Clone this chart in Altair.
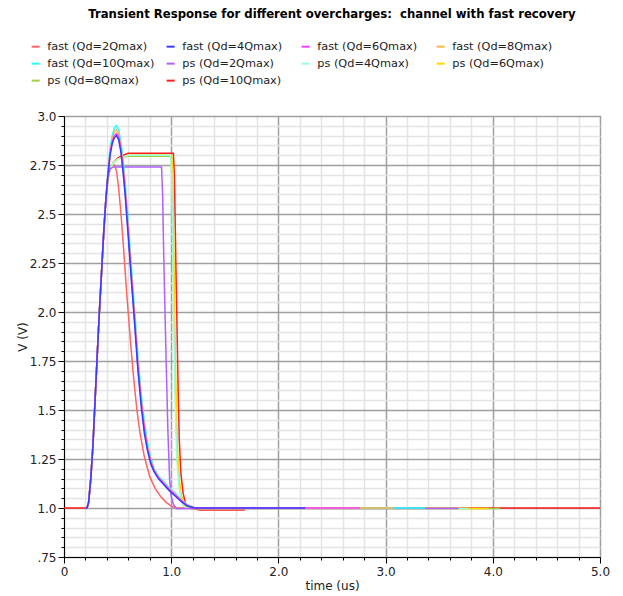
import altair as alt
import pandas as pd

TITLE = "Transient Response for different overcharges:\u00a0 channel with fast recovery"

SERIES = ["fast (Qd=2Qmax)", "fast (Qd=4Qmax)", "fast (Qd=6Qmax)", "fast (Qd=8Qmax)",
          "fast (Qd=10Qmax)", "ps (Qd=2Qmax)", "ps (Qd=4Qmax)", "ps (Qd=6Qmax)",
          "ps (Qd=8Qmax)", "ps (Qd=10Qmax)"]
COLORS = ["#ff6464", "#3a3aff", "#ff3cff", "#ffb44a", "#20ffff",
          "#b060ff", "#99ffd8", "#ffd800", "#a0d040", "#ff1e1e"]

# shared rising edge
RISE_T = [0.20, 0.215, 0.23, 0.25, 0.27, 0.29, 0.31, 0.33, 0.35, 0.37, 0.39]
RISE_V = [1.0, 1.0, 1.03, 1.15, 1.32, 1.55, 1.78, 2.0, 2.2, 2.4, 2.57]

FAST_T = [0.41, 0.43, 0.45, 0.47, 0.49, 0.51, 0.53, 0.55, 0.57, 0.60, 0.63, 0.66, 0.69,
          0.72, 0.75, 0.78, 0.81, 0.84, 0.88, 0.93, 0.98, 1.04, 1.10, 1.15, 1.22]
FAST4_V = [2.70, 2.80, 2.86, 2.89, 2.90, 2.88, 2.82, 2.72, 2.60, 2.38, 2.15, 1.93, 1.70,
           1.52, 1.38, 1.29, 1.225, 1.185, 1.15, 1.12, 1.09, 1.06, 1.03, 1.01, 1.0]
FAST6_V = [2.70, 2.81, 2.87, 2.90, 2.91, 2.895, 2.83, 2.74, 2.62, 2.40, 2.17, 1.95, 1.72,
           1.54, 1.40, 1.30, 1.235, 1.19, 1.155, 1.125, 1.095, 1.065, 1.035, 1.012, 1.0]
FAST8_V = [2.71, 2.82, 2.88, 2.92, 2.93, 2.91, 2.85, 2.76, 2.64, 2.42, 2.19, 1.97, 1.74,
           1.56, 1.42, 1.31, 1.245, 1.195, 1.16, 1.13, 1.10, 1.07, 1.038, 1.015, 1.0]
FAST10_V = [2.72, 2.84, 2.90, 2.94, 2.95, 2.93, 2.87, 2.78, 2.66, 2.45, 2.22, 2.00, 1.77,
            1.58, 1.44, 1.33, 1.255, 1.20, 1.165, 1.135, 1.105, 1.075, 1.04, 1.018, 1.0]
FAST_END = {"fast (Qd=4Qmax)": 2.25, "fast (Qd=6Qmax)": 2.76,
            "fast (Qd=8Qmax)": 3.07, "fast (Qd=10Qmax)": 3.37}

FAST2_T = [0.41, 0.43, 0.45, 0.47, 0.49, 0.51, 0.53, 0.55, 0.57, 0.59, 0.62, 0.65, 0.68,
           0.71, 0.75, 0.80, 0.85, 0.90, 0.95, 1.00, 1.05, 1.90]
FAST2_V = [2.69, 2.73, 2.75, 2.75, 2.72, 2.63, 2.51, 2.37, 2.21, 2.06, 1.85, 1.66, 1.50,
           1.38, 1.26, 1.16, 1.10, 1.06, 1.03, 1.01, 1.0, 1.0]

PS2_T = [0.41, 0.43, 0.46, 0.91, 0.92, 0.93, 0.94, 0.955, 0.97, 0.985, 1.0, 1.02, 1.05,
         1.2, 3.68]
PS2_V = [2.69, 2.73, 2.74, 2.74, 2.6, 2.3, 2.05, 1.7, 1.38, 1.15, 1.06, 1.02, 0.996,
         0.997, 0.997]

PS4_T = [0.41, 0.43, 0.46, 0.50, 0.55, 0.60, 0.995, 1.005, 1.015, 1.025, 1.035, 1.045,
         1.055, 1.075, 1.095, 1.115, 1.145, 1.2, 3.77]
PS4_V = [2.68, 2.73, 2.76, 2.78, 2.79, 2.80, 2.80, 2.7, 2.3, 1.9, 1.6, 1.38, 1.23, 1.1,
         1.04, 1.01, 1.0, 0.998, 0.998]
PS6_T = [0.41, 0.43, 0.46, 0.50, 0.55, 0.60, 1.005, 1.015, 1.025, 1.035, 1.045, 1.055,
         1.065, 1.085, 1.105, 1.125, 1.155, 1.2, 3.96]
PS6_V = [2.68, 2.73, 2.76, 2.78, 2.79, 2.80, 2.80, 2.7, 2.3, 1.9, 1.6, 1.38, 1.23, 1.1,
         1.04, 1.01, 1.0, 0.998, 0.998]
PS8_T = [0.41, 0.43, 0.46, 0.50, 0.55, 0.60, 1.0, 1.01, 1.02, 1.03, 1.04, 1.05, 1.06,
         1.08, 1.10, 1.12, 1.15, 1.2, 4.07]
PS8_V = [2.68, 2.73, 2.76, 2.78, 2.79, 2.795, 2.795, 2.7, 2.3, 1.9, 1.6, 1.38, 1.23, 1.1,
         1.04, 1.01, 1.0, 0.998, 0.998]
PS10_T = [0.0, 0.41, 0.43, 0.46, 0.50, 0.55, 0.60, 1.02, 1.03, 1.045, 1.055, 1.065, 1.075,
          1.09, 1.11, 1.13, 1.16, 1.27, 1.68, 1.69, 5.0]
PS10_V = [1.0, 2.68, 2.73, 2.76, 2.785, 2.80, 2.81, 2.81, 2.7, 2.2, 1.9, 1.6, 1.35, 1.18,
          1.08, 1.03, 1.0, 0.99, 0.99, 1.0, 1.0]

Y_TICKS = [0.75, 0.8, 0.85, 0.9, 0.95, 1.0, 1.05, 1.1, 1.15, 1.2, 1.25, 1.3, 1.35, 1.4,
           1.45, 1.5, 1.55, 1.6, 1.65, 1.7, 1.75, 1.8, 1.85, 1.9, 1.95, 2.0, 2.05, 2.1,
           2.15, 2.2, 2.25, 2.3, 2.35, 2.4, 2.45, 2.5, 2.55, 2.6, 2.65, 2.7, 2.75, 2.8,
           2.85, 2.9, 2.95, 3.0]
Y_MAJOR = [0.75, 1.0, 1.25, 1.5, 1.75, 2.0, 2.25, 2.5, 2.75, 3.0]
Y_LABELS = [".75", "1.0", "1.25", "1.5", "1.75", "2.0", "2.25", "2.5", "2.75", "3.0"]
X_TICKS = [0, 0.2, 0.4, 0.6, 0.8, 1.0, 1.2, 1.4, 1.6, 1.8, 2.0, 2.2, 2.4, 2.6, 2.8, 3.0,
           3.2, 3.4, 3.6, 3.8, 4.0, 4.2, 4.4, 4.6, 4.8, 5.0]
X_MAJOR = [0, 1.0, 2.0, 3.0, 4.0, 5.0]
X_LABELS = ["0", "1.0", "2.0", "3.0", "4.0", "5.0"]

series_pts = {}
for name, vals in [("fast (Qd=4Qmax)", FAST4_V), ("fast (Qd=6Qmax)", FAST6_V),
                   ("fast (Qd=8Qmax)", FAST8_V), ("fast (Qd=10Qmax)", FAST10_V)]:
    series_pts[name] = (RISE_T + FAST_T + [FAST_END[name]], RISE_V + vals + [1.0])
series_pts["fast (Qd=2Qmax)"] = (RISE_T + FAST2_T, RISE_V + FAST2_V)
series_pts["ps (Qd=2Qmax)"] = (RISE_T + PS2_T, RISE_V + PS2_V)
series_pts["ps (Qd=4Qmax)"] = (RISE_T + PS4_T, RISE_V + PS4_V)
series_pts["ps (Qd=6Qmax)"] = (RISE_T + PS6_T, RISE_V + PS6_V)
series_pts["ps (Qd=8Qmax)"] = (RISE_T + PS8_T, RISE_V + PS8_V)
series_pts["ps (Qd=10Qmax)"] = ([PS10_T[0]] + RISE_T + PS10_T[1:],
                                [PS10_V[0]] + RISE_V + PS10_V[1:])

# drawing order, bottom to top
Z_ORDER = ["ps (Qd=10Qmax)", "fast (Qd=2Qmax)", "ps (Qd=8Qmax)", "ps (Qd=6Qmax)",
           "ps (Qd=4Qmax)", "ps (Qd=2Qmax)", "fast (Qd=10Qmax)", "fast (Qd=8Qmax)",
           "fast (Qd=6Qmax)", "fast (Qd=4Qmax)"]

rows = []
for name in Z_ORDER:
    ts, vs = series_pts[name]
    for i, (t, v) in enumerate(zip(ts, vs)):
        rows.append({"t": t, "v": v, "series": name, "i": i})
df = pd.DataFrame(rows)


def label_expr(vals, labs):
    e = "''"
    for v, l in zip(vals, labs):
        e = f"abs(datum.value-{v})<0.001 ? '{l}' : ({e})"
    return e


def major_test(vals):
    return " || ".join(f"abs(datum.value-{v})<0.001" for v in vals)


FONT = "DejaVu Sans"
MAJOR_GRID = "#a0a0a0"
MINOR_GRID = "#e4e4e4"

x_axis = alt.Axis(values=X_TICKS, labelExpr=label_expr(X_MAJOR, X_LABELS), title="time (us)",
                  gridColor={"condition": {"test": major_test(X_MAJOR), "value": MAJOR_GRID},
                             "value": MINOR_GRID},
                  gridWidth=1.5,
                  tickSize={"condition": {"test": major_test(X_MAJOR), "value": 6}, "value": 3},
                  tickColor="#000", domainColor="#000", labelFont=FONT, labelFontSize=12,
                  labelColor="#222", titleFont=FONT, titleFontSize=12, titleFontWeight="normal",
                  titleColor="#222", labelPadding=3, titlePadding=3, labelOverlap=False,
                  labelFlush=False)
y_axis = alt.Axis(values=Y_TICKS, labelExpr=label_expr(Y_MAJOR, Y_LABELS), title="V (V)",
                  gridColor={"condition": {"test": major_test(Y_MAJOR), "value": MAJOR_GRID},
                             "value": MINOR_GRID},
                  gridWidth=1.5,
                  tickSize={"condition": {"test": major_test(Y_MAJOR), "value": 6}, "value": 3},
                  tickColor="#000", domainColor="#000", labelFont=FONT, labelFontSize=12,
                  labelColor="#222", titleFont=FONT, titleFontSize=12, titleFontWeight="normal",
                  titleColor="#222", labelPadding=2, titlePadding=0, labelOverlap=False,
                  labelFlush=False)

legend = alt.Legend(title=None, orient="none", legendX=-34, legendY=-75, columns=4,
                    direction="horizontal",
                    symbolType="stroke", symbolSize=64, symbolStrokeWidth=2,
                    labelFont=FONT, labelFontSize=11.3, labelColor="#222", labelOffset=6,
                    gridAlign="all", columnPadding=7, rowPadding=5, padding=0)

chart = alt.Chart(df).mark_line(strokeWidth=1.5, interpolate="linear").encode(
    x=alt.X("t:Q", scale=alt.Scale(domain=[0, 5], nice=False), axis=x_axis),
    y=alt.Y("v:Q", scale=alt.Scale(domain=[0.75, 3.0], nice=False), axis=y_axis),
    color=alt.Color("series:N", scale=alt.Scale(domain=SERIES, range=COLORS),
                    sort=SERIES, legend=legend),
    order=alt.Order("i:Q"),
).properties(
    width=536, height=441,
    title=alt.TitleParams(TITLE, font=FONT, fontSize=11.7, fontWeight="bold", color="#000",
                          anchor="middle", frame="group", offset=20),
    autosize=alt.AutoSizeParams(type="none"),
    padding={"left": 64, "top": 116, "right": 23, "bottom": 39},
    background="white",
).configure_view(stroke="#222", strokeWidth=1)

chart.save("out.html", embed_options={"renderer": "svg", "actions": False})
